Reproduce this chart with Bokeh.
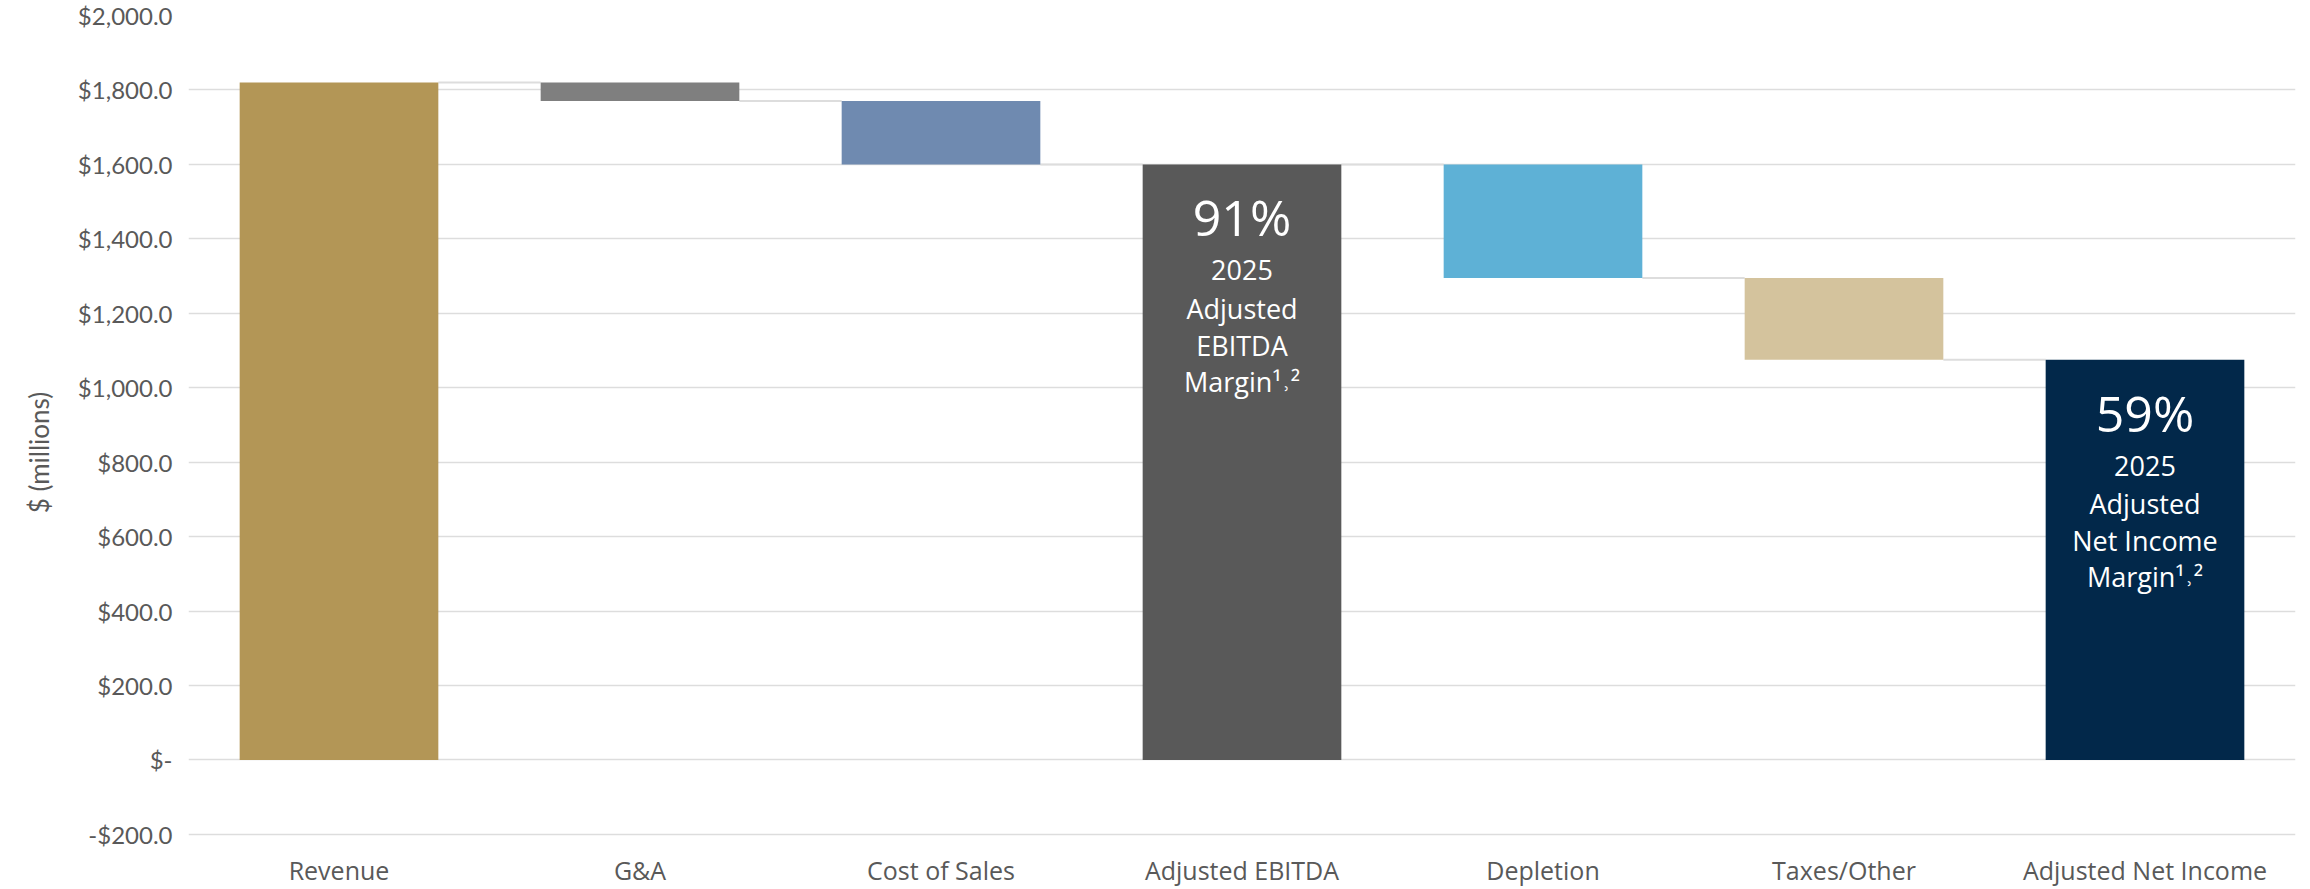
from bokeh.plotting import figure
from bokeh.models import ColumnDataSource, FixedTicker, Range1d
from bokeh.embed import file_html
from bokeh.resources import INLINE
from bokeh.core.properties import value

# ---- data ----
categories = ["Revenue", "G&A", "Cost of Sales", "Adjusted EBITDA",
              "Depletion", "Taxes/Other", "Adjusted Net Income"]
amounts = [1820.0, -50.0, -170.0, 1600.0, -305.0, -220.0, 1075.0]
is_total = [True, False, False, True, False, False, True]
bar_colors = ["#B39656", "#7F7F7F", "#6F8AB0", "#595959",
              "#5EB1D6", "#D4C39D", "#02284A"]

y_ticks = [-200, 0, 200, 400, 600, 800, 1000, 1200, 1400, 1600, 1800, 2000]
y_tick_labels = ["-$200.0", "$-", "$200.0", "$400.0", "$600.0", "$800.0",
                 "$1,000.0", "$1,200.0", "$1,400.0", "$1,600.0",
                 "$1,800.0", "$2,000.0"]

margin_bars = ["Adjusted EBITDA", "Adjusted Net Income"]
margin_pcts = ["91%", "59%"]
margin_lines = [["2025", "Adjusted", "EBITDA", "Margin¹˒²"],
                ["2025", "Adjusted", "Net Income", "Margin¹˒²"]]

# ---- waterfall geometry from data ----
xs = list(range(len(categories)))
bottoms, tops, levels = [], [], []
level = 0.0
for a, t in zip(amounts, is_total):
    if t:
        bottoms.append(0.0)
        tops.append(a)
        level = a
    else:
        new = level + a
        bottoms.append(min(level, new))
        tops.append(max(level, new))
        level = new
    levels.append(level)

FONT = "Lato"
FONT2 = "Open Sans"
GRAY = "#595959"
BW = 0.66
Y_MIN = min(y_ticks)

p = figure(width=2302, height=889, output_backend="svg", toolbar_location=None,
           x_axis_location=None,
           x_range=Range1d(-0.5, len(categories) - 0.5),
           y_range=Range1d(-348, 2000))
p.min_border = 0
p.min_border_top = 15
p.min_border_left = 188
p.min_border_right = 7
p.min_border_bottom = 0
p.outline_line_color = None
p.background_fill_color = "white"
p.border_fill_color = "white"

# grid
p.xgrid.grid_line_color = None
p.ygrid.grid_line_color = "#DDDDDD"
p.ygrid.grid_line_width = 1.6
p.ygrid.ticker = FixedTicker(ticks=y_ticks)

# connectors
seg_src = ColumnDataSource(dict(
    x0=[x + BW / 2 for x in xs[:-1]],
    x1=[x + 1 - BW / 2 for x in xs[:-1]],
    y=levels[:-1]))
p.segment(x0="x0", y0="y", x1="x1", y1="y", source=seg_src,
          line_color="#DDDDDD", line_width=2)

# bars
src = ColumnDataSource(dict(x=xs, top=tops, bottom=bottoms, color=bar_colors))
p.vbar(x="x", top="top", bottom="bottom", width=BW, source=src,
       fill_color="color", line_color=None)

# labels inside total bars
tx, ty, tt, toff, tsize = [], [], [], [], []
line_offsets = [106, 144, 181, 217]
for name, pct, lines in zip(margin_bars, margin_pcts, margin_lines):
    i = categories.index(name)
    tx.append(i); ty.append(tops[i]); tt.append(pct); toff.append(53); tsize.append("50px")
    for off, ln in zip(line_offsets, lines):
        tx.append(i); ty.append(tops[i]); tt.append(ln); toff.append(off); tsize.append("27px")
lab_src = ColumnDataSource(dict(x=tx, y=ty, text=tt, yoff=toff, size=tsize))
p.text(x="x", y="y", text="text", y_offset="yoff", text_font_size="size",
       source=lab_src, text_align="center", text_baseline="middle",
       text_color="white", text_font=value(FONT2))

# category labels, just below the lowest gridline
cat_src = ColumnDataSource(dict(x=xs, y=[Y_MIN] * len(xs), text=categories))
p.text(x="x", y="y", text="text", source=cat_src, y_offset=36,
       text_align="center", text_baseline="middle",
       text_font=value(FONT2), text_font_size="25px", text_color=GRAY)

# y axis
p.yaxis.ticker = FixedTicker(ticks=y_ticks)
p.yaxis.major_label_overrides = {t: l for t, l in zip(y_ticks, y_tick_labels)}
p.yaxis.axis_line_color = None
p.yaxis.major_tick_line_color = None
p.yaxis.minor_tick_line_color = None
p.yaxis.major_tick_out = 0
p.yaxis.major_tick_in = 0
p.yaxis.major_label_standoff = 16
p.yaxis.major_label_text_font = FONT
p.yaxis.major_label_text_font_size = "24px"
p.yaxis.major_label_text_color = GRAY
p.yaxis.axis_label = "$ (millions)"
p.yaxis.axis_label_text_font = FONT
p.yaxis.axis_label_text_font_size = "26px"
p.yaxis.axis_label_text_font_style = "normal"
p.yaxis.axis_label_text_color = GRAY
p.yaxis.axis_label_standoff = 20

open("out.html", "w").write(file_html(p, INLINE))
